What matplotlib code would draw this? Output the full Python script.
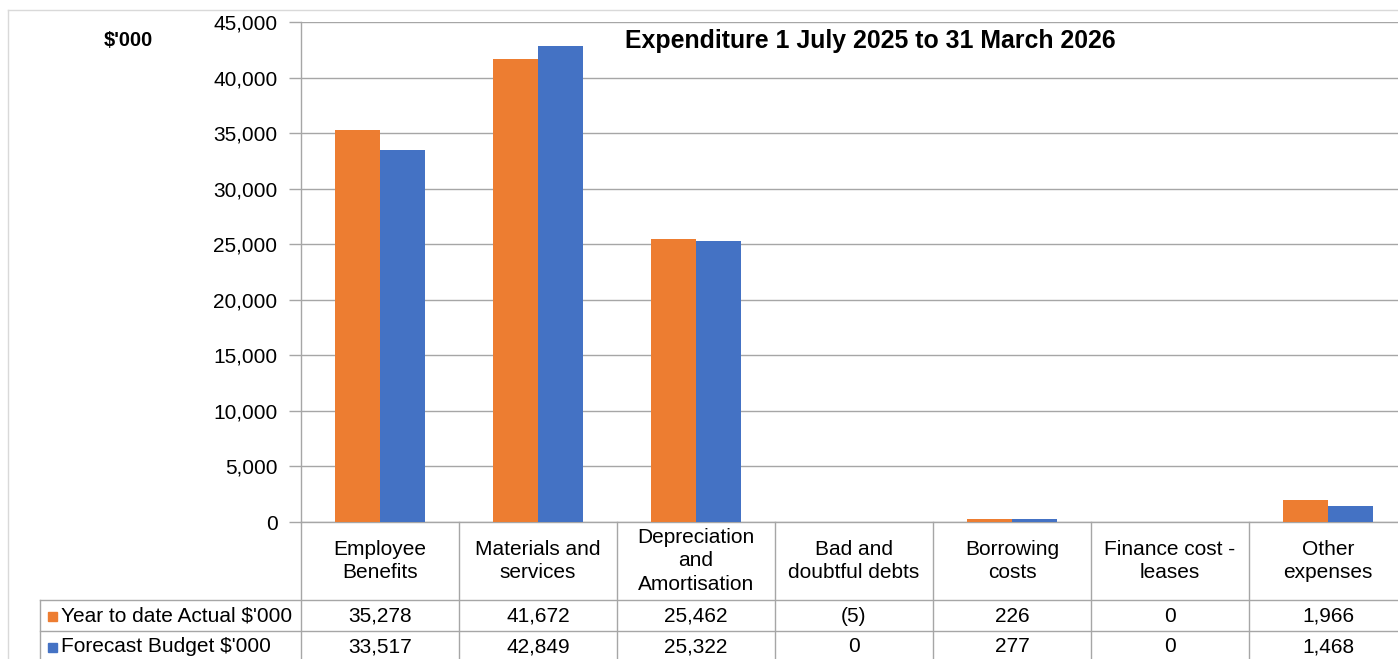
import matplotlib
matplotlib.use("Agg")
import matplotlib.pyplot as plt
from matplotlib.transforms import blended_transform_factory
from matplotlib.ticker import FuncFormatter
import numpy as np

categories = ["Employee\nBenefits", "Materials and\nservices", "Depreciation\nand\nAmortisation",
              "Bad and\ndoubtful debts", "Borrowing\ncosts", "Finance cost -\nleases", "Other\nexpenses"]
actual = [35278, 41672, 25462, -5, 226, 0, 1966]
budget = [33517, 42849, 25322, 0, 277, 0, 1468]
actual_labels = ["35,278", "41,672", "25,462", "(5)", "226", "0", "1,966"]
budget_labels = ["33,517", "42,849", "25,322", "0", "277", "0", "1,468"]
series_names = ["Year to date Actual $'000", "Forecast Budget $'000"]
title = "Expenditure 1 July 2025 to 31 March 2026"
yticks = list(range(0, 45001, 5000))

ORANGE = "#ED7D31"
BLUE = "#4472C4"
GRID = "#a6a6a6"
FONT = "Liberation Sans"
FS = 15

W, H = 1398, 659
fig = plt.figure(figsize=(W / 100, H / 100), dpi=100)
fig.patch.set_facecolor("white")

# overlay in pixel coordinates
over = fig.add_axes([0, 0, 1, 1])
over.set_xlim(0, W)
over.set_ylim(H, 0)
over.axis("off")

L, R, T, B = 301, 1407, 22, 522
ax = fig.add_axes([L / W, (H - B) / H, (R - L) / W, (B - T) / H])
n = len(categories)
x = np.arange(n)
bw = 0.287
ax.bar(x - bw / 2, actual, bw, color=ORANGE, zorder=3)
ax.bar(x + bw / 2, budget, bw, color=BLUE, zorder=3)
ax.set_xlim(-0.5, n - 0.5)
ax.set_ylim(0, 45000)
ax.set_yticks(yticks)
ax.yaxis.set_major_formatter(FuncFormatter(lambda v, p: f"{int(v):,}"))
ax.set_xticks([])
ax.grid(axis="y", color=GRID, linewidth=1.0, zorder=0)
for s in ["top", "right"]:
    ax.spines[s].set_visible(False)
for s in ["left", "bottom"]:
    ax.spines[s].set_color(GRID)
    ax.spines[s].set_linewidth(1.0)
ax.tick_params(axis="y", length=9, width=1.0, color=GRID, pad=8, labelsize=FS)
for lab in ax.get_yticklabels():
    lab.set_fontfamily(FONT)
ax.patch.set_alpha(0)

# outer chart border (partial)
over.plot([8, W], [10, 10], color="#d9d9d9", lw=1.0)
over.plot([8, 8], [10, H], color="#d9d9d9", lw=1.0)

# title and unit label
over.text(870, 41, title, ha="center", va="center", fontsize=17.9, fontweight="bold", fontfamily=FONT)
over.text(128, 40, "$'000", ha="center", va="center", fontsize=14.5, fontweight="bold", fontfamily=FONT)

# data table
bt = blended_transform_factory(ax.transData, over.transData)
for k in range(n + 1):
    xb = k - 0.5
    over.plot([xb, xb], [B, H], color=GRID, lw=1.0, transform=bt, clip_on=False)
for yy in [600, 631]:
    over.plot([40, W], [yy, yy], color=GRID, lw=1.0)
over.plot([40, 40], [600, H], color=GRID, lw=1.0)

for i, c in enumerate(categories):
    over.text(i, 561, c, ha="center", va="center", fontsize=FS, fontfamily=FONT,
              linespacing=1.32, transform=bt)
    over.text(i, 616, actual_labels[i], ha="center", va="center", fontsize=FS, fontfamily=FONT, transform=bt)
    over.text(i, 647, budget_labels[i], ha="center", va="center", fontsize=FS, fontfamily=FONT, transform=bt)

for yy, col, name in [(616, ORANGE, series_names[0]), (647, BLUE, series_names[1])]:
    over.add_patch(plt.Rectangle((48, yy - 4.5), 9, 9, color=col))
    over.text(61, yy, name, ha="left", va="center", fontsize=FS, fontfamily=FONT)

fig.savefig("out.png", dpi=100)
